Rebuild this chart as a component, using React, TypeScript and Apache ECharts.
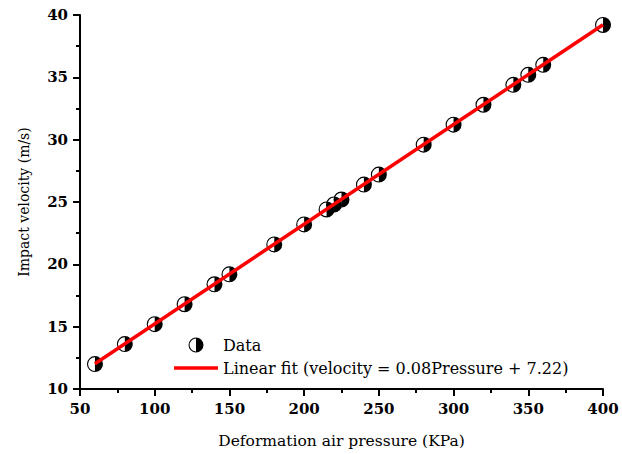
import React, { useEffect, useRef } from "react";
import * as echarts from "echarts";

const pressure = [60, 80, 100, 120, 140, 150, 180, 200, 215, 220, 225, 240, 250, 280, 300, 320, 340, 350, 360, 400];
const velocity = [12.0, 13.6, 15.2, 16.8, 18.4, 19.2, 21.6, 23.2, 24.4, 24.8, 25.2, 26.4, 27.2, 29.6, 31.2, 32.8, 34.4, 35.2, 36.0, 39.2];
const fitX = [60, 400];
const fitY = [12.02, 39.22];
const seriesNames = ["Data", "Linear fit (velocity = 0.08Pressure + 7.22)"];
const xAxisName = "Deformation air pressure (KPa)";
const yAxisName = "Impact velocity (m/s)";

const HALF = "path://M0,-10 A10,10 0 0 1 0,10 A10,10 0 0 1 0,-10 Z M0,-8.6 A8.6,8.6 0 0 0 0,8.6 Z";
const LINE_ICON = "path://M0,0 L0,0 M0,14 L0,14 M0,5.2 L44,5.2 L44,8.8 L0,8.8 Z";
const FONT = "DejaVu Serif";

export default function App() {
  const ref = useRef<HTMLDivElement>(null);
  useEffect(() => {
    document.body.style.margin = "0";
    const chart = echarts.init(ref.current!, null, { renderer: "svg" });
    const axisCommon = {
      axisLine: { show: true, lineStyle: { color: "#000", width: 2 } },
      axisTick: { show: true, inside: false, length: 7, lineStyle: { color: "#000", width: 2 } },
      minorTick: { show: true, splitNumber: 2, length: 4, lineStyle: { color: "#000", width: 2 } },
      splitLine: { show: false },
      axisLabel: { color: "#000", fontFamily: FONT, fontWeight: "bold", fontSize: 15, margin: 12 },
      nameLocation: "middle" as const,
    };
    chart.setOption({
      animation: false,
      backgroundColor: "#fff",
      textStyle: { fontFamily: FONT },
      grid: { left: 80, right: 19, top: 15, bottom: 62, containLabel: false },
      xAxis: {
        type: "value",
        min: 50,
        max: 400,
        interval: 50,
        name: xAxisName,
        nameGap: 44,
        nameTextStyle: { color: "#000", fontFamily: FONT, fontSize: 15.5 },
        ...axisCommon,
      },
      yAxis: {
        type: "value",
        min: 10,
        max: 40,
        interval: 5,
        name: yAxisName,
        nameGap: 49,
        nameTextStyle: { color: "#000", fontFamily: FONT, fontSize: 14 },
        ...axisCommon,
      },
      legend: {
        orient: "vertical",
        left: 169,
        top: 332,
        itemWidth: 44,
        itemHeight: 15,
        itemGap: 7,
        textStyle: { color: "#000", fontFamily: FONT, fontSize: 16 },
        data: [
          { name: seriesNames[0] },
          { name: seriesNames[1], icon: LINE_ICON, itemStyle: { color: "#ff0000" } },
        ],
      },
      series: [
        {
          name: seriesNames[0],
          type: "scatter",
          symbol: HALF,
          symbolSize: 16,
          symbolKeepAspect: true,
          itemStyle: { color: "#000", opacity: 1 },
          data: pressure.map((p, i) => [p, velocity[i]]),
          z: 2,
        },
        {
          name: seriesNames[1],
          type: "line",
          symbol: "none",
          lineStyle: { color: "#ff0000", width: 3.5 },
          itemStyle: { color: "#ff0000" },
          data: fitX.map((p, i) => [p, fitY[i]]),
          z: 3,
        },
      ],
    });
    return () => chart.dispose();
  }, []);
  return <div ref={ref} style={{ width: 622, height: 454 }} />;
}
